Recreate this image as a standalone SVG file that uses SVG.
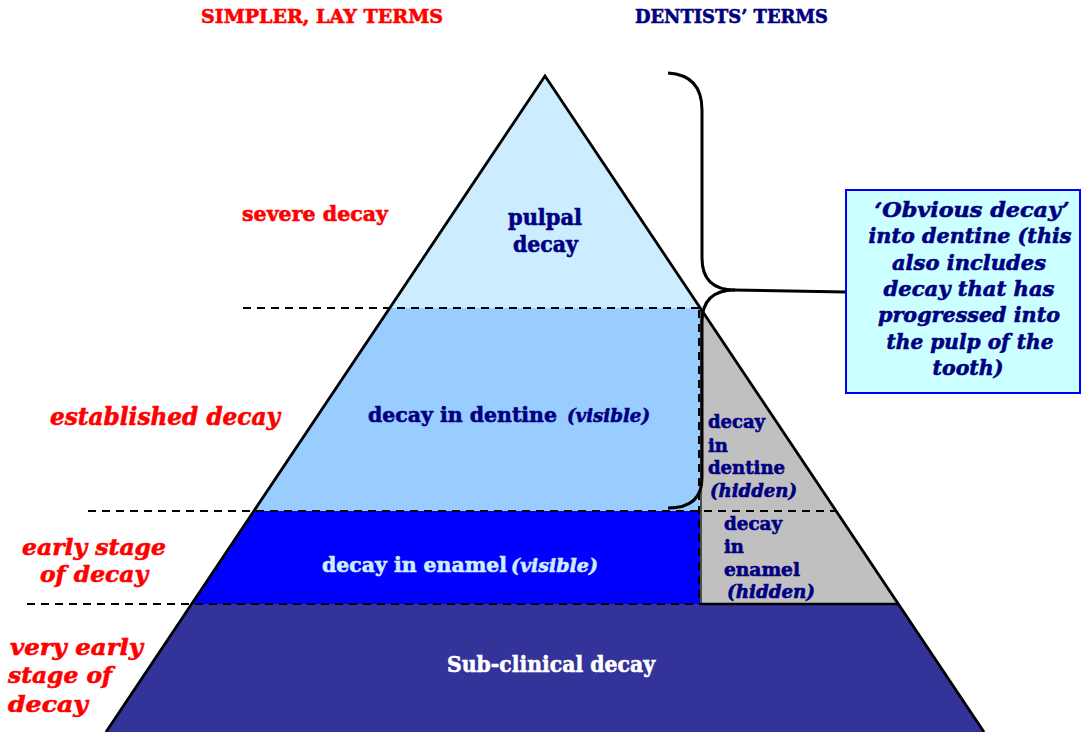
<svg xmlns="http://www.w3.org/2000/svg" width="1081" height="732" viewBox="0 0 1081 732">
<style>
.t{font-family:"DejaVu Serif","Liberation Serif",serif;font-weight:bold;stroke-width:0.6}
.i{font-style:italic}
.red{fill:#FF0000;stroke:#FF0000}
.navy{fill:#000080;stroke:#000080}
.lb{fill:#CCECFF;stroke:#CCECFF}
.wh{fill:#FFFFFF;stroke:#FFFFFF}
.dash{stroke:#000;stroke-width:2;stroke-dasharray:8 6;fill:none}
</style>
<rect width="1081" height="732" fill="#FFFFFF"/>
<g id="titles">
<text class="t red" x="201" y="23" font-size="19" textLength="242" lengthAdjust="spacingAndGlyphs">SIMPLER,  LAY TERMS</text>
<text class="t navy" x="635" y="23" font-size="19" textLength="193" lengthAdjust="spacingAndGlyphs">DENTISTS’ TERMS</text>
</g>
<g id="pyramid">
<polygon id="pulpal" points="545,76 700,308 390,308" fill="#CCECFF"/>
<polygon id="dentine-visible" points="390,308 700,308 700,511 254,511" fill="#99CCFF"/>
<polygon id="enamel-visible" points="254,511 700,511 700,604 192,604" fill="#0000FF"/>
<polygon id="hidden" points="700,308 898,604 700,604" fill="#C0C0C0"/>
<polygon id="subclinical" points="192,604 898,604 984,732 106,732" fill="#333399"/>
<line x1="700" y1="604" x2="898" y2="604" stroke="#000" stroke-width="2.5"/>
<line x1="701" y1="308" x2="701" y2="604" stroke="#000" stroke-width="1.2"/>
<polyline points="106,732 545,76 984,732" fill="none" stroke="#000" stroke-width="2.8"/>
</g>
<g id="dividers">
<line class="dash" x1="243" y1="308" x2="700" y2="308"/>
<line class="dash" x1="88" y1="511" x2="836" y2="511"/>
<line class="dash" x1="27" y1="604" x2="700" y2="604"/>
<line class="dash" x1="699" y1="310" x2="699" y2="604"/>
</g>
<g id="connectors">
<path d="M668,73 Q702,75 702,110 L702,258 Q702,290 735,290 Q702,290 702,322 L702,478 Q702,508 668,508" fill="none" stroke="#000" stroke-width="3"/>
<line x1="733" y1="290" x2="846" y2="292" stroke="#000" stroke-width="3"/>
</g>
<g id="lay-labels">
<text class="t red" x="242" y="221" font-size="21" textLength="146" lengthAdjust="spacingAndGlyphs">severe decay</text>
<text class="t i red" x="50" y="425" font-size="24" textLength="230" lengthAdjust="spacingAndGlyphs">established decay</text>
<text class="t i red" x="22" y="555" font-size="23" textLength="144" lengthAdjust="spacingAndGlyphs">early stage</text>
<text class="t i red" x="40" y="582" font-size="23" textLength="108" lengthAdjust="spacingAndGlyphs">of decay</text>
<text class="t i red" x="10" y="655" font-size="23" textLength="133" lengthAdjust="spacingAndGlyphs">very early</text>
<text class="t i red" x="8" y="683" font-size="23" textLength="104" lengthAdjust="spacingAndGlyphs">stage of</text>
<text class="t i red" x="8" y="712" font-size="23" textLength="80" lengthAdjust="spacingAndGlyphs">decay</text>
</g>
<g id="node-pulpal">
<text class="t navy" x="508" y="225" font-size="22" textLength="74" lengthAdjust="spacingAndGlyphs">pulpal</text>
<text class="t navy" x="513" y="252" font-size="22" textLength="65" lengthAdjust="spacingAndGlyphs">decay</text>
</g>
<g id="node-dentine">
<text class="t navy" x="368" y="422" font-size="21" textLength="189" lengthAdjust="spacingAndGlyphs">decay in dentine</text>
<text class="t i navy" x="567" y="422" font-size="19" textLength="83" lengthAdjust="spacingAndGlyphs">(visible)</text>
</g>
<g id="node-enamel">
<text class="t lb" x="322" y="572" font-size="21" textLength="185" lengthAdjust="spacingAndGlyphs">decay in enamel</text>
<text class="t i lb" x="511" y="572" font-size="19" textLength="87" lengthAdjust="spacingAndGlyphs">(visible)</text>
</g>
<g id="node-dentine-hidden">
<text class="t navy" x="708" y="428" font-size="19" textLength="57" lengthAdjust="spacingAndGlyphs">decay</text>
<text class="t navy" x="708" y="452" font-size="19" textLength="20" lengthAdjust="spacingAndGlyphs">in</text>
<text class="t navy" x="708" y="474" font-size="19" textLength="77" lengthAdjust="spacingAndGlyphs">dentine</text>
<text class="t i navy" x="710" y="497" font-size="18" textLength="87" lengthAdjust="spacingAndGlyphs">(hidden)</text>
</g>
<g id="node-enamel-hidden">
<text class="t navy" x="724" y="530" font-size="19" textLength="58" lengthAdjust="spacingAndGlyphs">decay</text>
<text class="t navy" x="724" y="553" font-size="19" textLength="20" lengthAdjust="spacingAndGlyphs">in</text>
<text class="t navy" x="724" y="576" font-size="19" textLength="76" lengthAdjust="spacingAndGlyphs">enamel</text>
<text class="t i navy" x="727" y="598" font-size="18" textLength="88" lengthAdjust="spacingAndGlyphs">(hidden)</text>
</g>
<g id="node-subclinical">
<text class="t wh" x="447" y="672" font-size="23" textLength="208" lengthAdjust="spacingAndGlyphs">Sub-clinical decay</text>
</g>
<g id="node-obvious">
<rect x="846" y="190" width="234" height="203" fill="#CCFFFF" stroke="#0000FF" stroke-width="2"/>
<g class="t i navy" font-size="21" text-anchor="middle">
<text x="972" y="217" textLength="195" lengthAdjust="spacingAndGlyphs">‘Obvious  decay’</text>
<text x="970" y="243" textLength="203" lengthAdjust="spacingAndGlyphs">into dentine (this</text>
<text x="969" y="270" textLength="154" lengthAdjust="spacingAndGlyphs">also includes</text>
<text x="969" y="296" textLength="171" lengthAdjust="spacingAndGlyphs">decay that has</text>
<text x="969" y="322" textLength="182" lengthAdjust="spacingAndGlyphs">progressed into</text>
<text x="970" y="349" textLength="167" lengthAdjust="spacingAndGlyphs">the pulp of the</text>
<text x="968" y="375" textLength="71" lengthAdjust="spacingAndGlyphs">tooth)</text>
</g>
</g>
</svg>
